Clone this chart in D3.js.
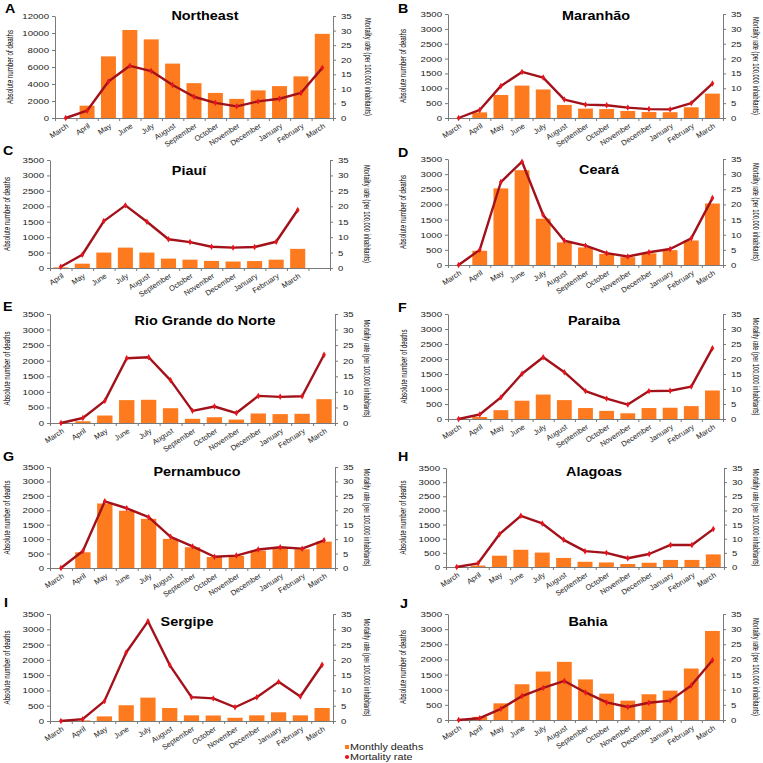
<!DOCTYPE html>
<html><head><meta charset="utf-8">
<script src="https://cdn.jsdelivr.net/npm/d3@7"></script>
<style>body{margin:0;background:#fff}svg{display:block}text{font-family:"Liberation Sans",Arial,sans-serif}</style>
</head><body><svg id="c" width="763" height="763"></svg>
<script>
// ---- data ----
const monthsMarToMar = ["March","April","May","June","July","August","September","October","November","December","January","February","March"];
const monthsAprToMar = ["April","May","June","July","August","September","October","November","December","January","February","March"];
const deathTicksNE = [0,2000,4000,6000,8000,10000,12000];
const deathTicksState = [0,500,1000,1500,2000,2500,3000,3500];
const rateTicks = [0,5,10,15,20,25,30,35];
const panelLetters = ["A","B","C","D","E","F","G","H","I","J"];
const panelTitles = ["Northeast","Maranhão","Piauí","Ceará","Rio Grande do Norte","Paraiba","Pernambuco","Alagoas","Sergipe","Bahia"];
const legendLabels = ["Monthly deaths","Mortality rate"];
const leftAxisTitle = "Absolute number of deaths";
const rightAxisTitle = "Mortality rate (per 100,000 inhabitants)";

const neDeaths = [0,1450,7250,10350,9250,6400,4100,2950,2250,3250,3750,4900,9900];
const neRate   = [0,2.5,12.5,17.9,16.1,11.3,7.3,5.2,4.0,5.7,6.6,8.6,17.2];
const maDeaths = [0,190,775,1090,960,440,315,300,235,200,195,360,820];
const maRate   = [0,2.7,10.8,15.5,13.6,6.2,4.5,4.3,3.5,3.0,2.9,5.0,11.6];
const piDeaths = [20,140,500,660,500,305,270,230,210,225,270,620];
const piRate   = [0.4,4.3,15.2,20.3,15.0,9.3,8.4,6.9,6.6,6.8,8.5,18.8];
const ceDeaths = [0,470,2530,3130,1530,745,580,365,260,385,490,810,2030];
const ceRate   = [0,5.0,27.4,34.1,16.5,8.0,6.4,3.9,2.8,4.2,5.3,8.8,22.1];
const rnDeaths = [0,55,240,735,745,475,135,185,110,305,285,295,765];
const rnRate   = [0,1.6,7.1,20.8,21.1,13.7,3.9,5.3,3.2,8.7,8.4,8.6,21.9];
const pbDeaths = [0,65,295,610,815,630,365,270,190,365,375,430,950];
const pbRate   = [0,1.5,7.2,15.1,20.6,15.6,9.3,6.8,4.8,9.3,9.4,10.8,23.6];
const peDeaths = [0,545,2235,1985,1705,1010,720,380,420,605,710,650,915];
const peRate   = [0,5.9,23.1,20.7,17.6,10.8,7.5,3.9,4.3,6.4,7.2,6.7,9.6];
const alDeaths = [0,50,400,610,510,320,185,160,105,150,250,250,445];
const alRate   = [0,1.3,11.6,18.1,15.4,9.6,5.6,5.0,3.1,4.6,7.8,7.8,13.4];
const seDeaths = [0,20,150,515,765,425,185,180,105,185,285,185,425];
const seRate   = [0,0.6,6.5,22.4,32.6,18.3,7.8,7.4,4.5,7.8,12.8,8.0,18.4];
const baDeaths = [0,105,550,1180,1600,1920,1340,870,640,850,970,1700,2940];
const baRate   = [0,0.6,3.7,7.9,10.6,12.9,9.1,5.8,4.3,5.7,6.4,11.4,19.7];

// ---- panel table built from the arrays ----
const panels = [
  {months:monthsMarToMar, deaths:neDeaths, rate:neRate, dTicks:deathTicksNE},
  {months:monthsMarToMar, deaths:maDeaths, rate:maRate, dTicks:deathTicksState},
  {months:monthsAprToMar, deaths:piDeaths, rate:piRate, dTicks:deathTicksState},
  {months:monthsMarToMar, deaths:ceDeaths, rate:ceRate, dTicks:deathTicksState},
  {months:monthsMarToMar, deaths:rnDeaths, rate:rnRate, dTicks:deathTicksState},
  {months:monthsMarToMar, deaths:pbDeaths, rate:pbRate, dTicks:deathTicksState},
  {months:monthsMarToMar, deaths:peDeaths, rate:peRate, dTicks:deathTicksState},
  {months:monthsMarToMar, deaths:alDeaths, rate:alRate, dTicks:deathTicksState},
  {months:monthsMarToMar, deaths:seDeaths, rate:seRate, dTicks:deathTicksState},
  {months:monthsMarToMar, deaths:baDeaths, rate:baRate, dTicks:deathTicksState}
];
panels.forEach((p,i)=>{p.letter=panelLetters[i]; p.title=panelTitles[i];});

// ---- layout ----
const layout = [
  {l:55, r:333, t:16, b:118, lx:5, ly:13, tx:205, ty:20, ax:10, rx:368},
  {l:448, r:723, t:14, b:118, lx:398, ly:13, tx:596, ty:20, ax:403, rx:756},
  {l:50, r:330, t:160, b:268, lx:3, ly:155, tx:189, ty:175, ax:7, rx:367},
  {l:448, r:723, t:159, b:265, lx:398, ly:157, tx:599, ty:174, ax:403, rx:756},
  {l:50, r:335, t:314, b:423, lx:3, ly:311, tx:205, ty:325, ax:7, rx:367},
  {l:448, r:723, t:314, b:419, lx:398, ly:312, tx:594, ty:325, ax:404, rx:756},
  {l:50, r:335, t:467, b:568, lx:3, ly:461, tx:197, ty:476, ax:7, rx:367},
  {l:446, r:724, t:468, b:567, lx:398, ly:461, tx:594, ty:476, ax:403, rx:756},
  {l:50, r:333, t:614, b:721, lx:4, ly:607, tx:187, ty:626, ax:7, rx:367},
  {l:448, r:723, t:614, b:720, lx:400, ly:608, tx:588, ty:626, ax:403, rx:756}
];

const BAR = "#fd7a1f", LINE = "#a3111b", MARK = "#e8141c", AXIS = "#7a7a7a", TXT = "#1a1a1a";
const svg = d3.select("#c");
const stretchList = [];

function stretch(sel, f){ sel.each(function(){ stretchList.push([this,f]); }); }

panels.forEach((p,i)=>{
  const L = layout[i];
  const g = svg.append("g");
  const nSlots = 13;
  const x = d3.scaleBand().domain(d3.range(nSlots)).range([L.l, L.r]).paddingInner(0.3).paddingOuter(0.15);
  const cx = j => x(j) + x.bandwidth()/2;
  const yL = d3.scaleLinear().domain([0, d3.max(p.dTicks)]).range([L.b, L.t]);
  const yR = d3.scaleLinear().domain([0, d3.max(rateTicks)]).range([L.b, L.t]);

  // bars
  g.selectAll("rect.bar").data(p.deaths).join("rect").attr("class","bar")
    .attr("x",(d,j)=>x(j)).attr("width",x.bandwidth())
    .attr("y",d=>yL(d)).attr("height",d=>L.b-yL(d)).attr("fill",BAR);

  // left axis
  const ga = g.append("g").attr("transform",`translate(${L.l},0)`)
    .call(d3.axisLeft(yL).tickValues(p.dTicks).tickSize(3).tickSizeOuter(0).tickPadding(3).tickFormat(d3.format("d")));
  // right axis
  const gr = g.append("g").attr("transform",`translate(${L.r},0)`)
    .call(d3.axisRight(yR).tickValues(rateTicks).tickSize(3).tickSizeOuter(0).tickPadding(5));
  [ga,gr].forEach(a=>{
    a.selectAll("path,line").attr("stroke",AXIS);
    a.selectAll("text").attr("font-size",8).attr("fill",TXT);
    stretch(a.selectAll("text"),1.2);
  });
  // bottom axis: boundary ticks
  const xs = d3.scaleLinear().domain([0,nSlots]).range([L.l,L.r]);
  g.append("g").attr("transform",`translate(0,${L.b})`)
    .call(d3.axisBottom(xs).tickValues(d3.range(nSlots+1)).tickSize(3).tickSizeOuter(0).tickFormat(""))
    .selectAll("path,line").attr("stroke",AXIS);
  // bottom axis labels
  const gb = g.append("g").attr("transform",`translate(0,${L.b})`)
    .call(d3.axisBottom(x).tickValues(d3.range(p.months.length)).tickSize(0).tickFormat(j=>p.months[j]));
  gb.select(".domain").remove();
  gb.selectAll("text").attr("font-size",7.5).attr("fill",TXT)
    .attr("x",0).attr("y",0).attr("dy","0.35em").attr("text-anchor","end")
    .attr("transform","translate(2,7) rotate(-33)");

  // line
  const line = d3.line().x((d,j)=>cx(j)).y(d=>yR(d));
  g.append("path").datum(p.rate).attr("d",line).attr("fill","none")
    .attr("stroke",LINE).attr("stroke-width",2.4).attr("stroke-linejoin","round");
  g.selectAll("path.mk").data(p.rate).join("path").attr("class","mk")
    .attr("transform",(d,j)=>`translate(${cx(j)},${yR(d)})`)
    .attr("d",d3.symbol(d3.symbolDiamond,12)).attr("fill",MARK);

  // titles
  const mid = (L.t+L.b)/2;
  const lt = g.append("text").attr("x",L.lx).attr("y",L.ly).attr("font-size",13).attr("font-weight","bold").attr("fill","#000").text(p.letter);
  stretch(lt,1.1);
  const tt = g.append("text").attr("x",L.tx).attr("y",L.ty).attr("text-anchor","middle").attr("font-size",12).attr("font-weight","bold").attr("fill","#000").text(p.title);
  stretch(tt,1.2);
  g.append("text").attr("transform",`translate(${L.ax+3},${mid}) rotate(-90)`).attr("text-anchor","middle")
    .attr("font-size",8.5).attr("fill","#000").attr("textLength",74).attr("lengthAdjust","spacingAndGlyphs").text(leftAxisTitle);
  g.append("text").attr("transform",`translate(${L.rx-3},${mid}) rotate(90)`).attr("text-anchor","middle")
    .attr("font-size",8.5).attr("fill","#000").attr("textLength",98).attr("lengthAdjust","spacingAndGlyphs").text(rightAxisTitle);
});

// legend
const lg = svg.append("g");
lg.append("rect").attr("x",345).attr("y",745).attr("width",4).attr("height",4).attr("fill",BAR);
const l1 = lg.append("text").attr("x",350).attr("y",750).attr("font-size",9).attr("fill",TXT).text(legendLabels[0]);
lg.append("path").attr("transform","translate(347,757)").attr("d",d3.symbol(d3.symbolCircle,14)).attr("fill",MARK);
const l2 = lg.append("text").attr("x",350).attr("y",760).attr("font-size",9).attr("fill",TXT).text(legendLabels[1]);
stretch(l1,1.2); stretch(l2,1.2);

// apply horizontal stretching of text via textLength
stretchList.forEach(([el,f])=>{
  const len = el.getComputedTextLength();
  el.setAttribute("textLength", (len*f).toFixed(1));
  el.setAttribute("lengthAdjust","spacingAndGlyphs");
});
</script></body></html>
